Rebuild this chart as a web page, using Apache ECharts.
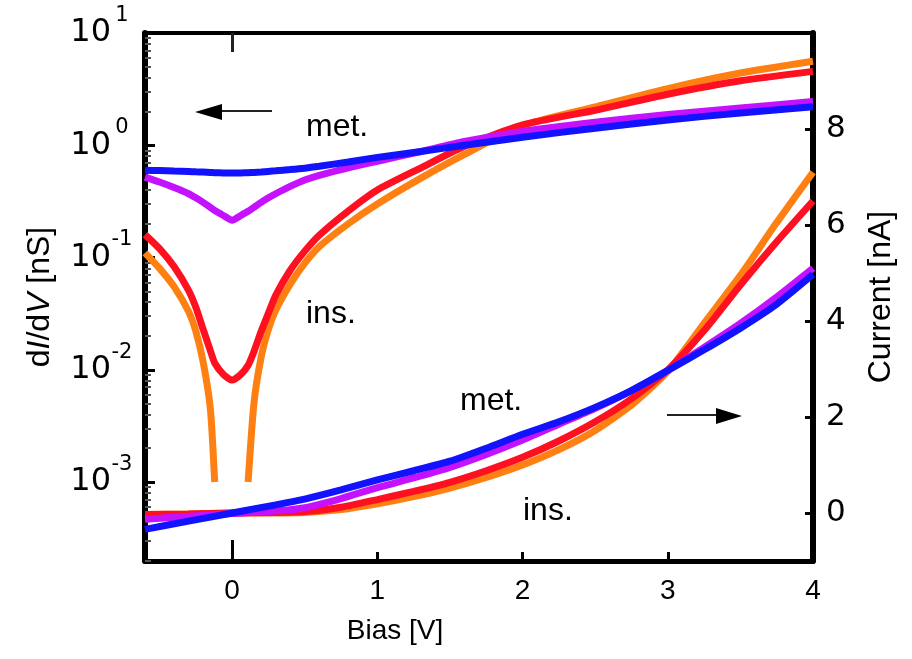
<!DOCTYPE html>
<html>
<head>
<meta charset="utf-8">
<title>dI/dV and current vs bias</title>
<script src="https://cdn.jsdelivr.net/npm/echarts@6/dist/echarts.min.js"></script>
<style>
  html, body { margin: 0; padding: 0; background: #fff; }
  #chart { width: 912px; height: 659px; }
</style>
</head>
<body>
<div id="chart"></div>
<script>
// conductance curves (left, log axis), bias in V
const biasG = [-0.6, -0.5, -0.4, -0.3, -0.25, -0.2, -0.15, -0.12, -0.06, 0, 0.06, 0.11, 0.15, 0.2, 0.25, 0.3, 0.4, 0.5, 0.6, 0.8, 1.0, 1.3, 1.6, 2.0, 2.5, 3.0, 3.5, 4.0];
const gOrange = [0.11, 0.08, 0.055, 0.033, 0.022, 0.0118, 0.0045, 0.001, null, null, null, 0.001, 0.005, 0.013, 0.023, 0.034, 0.058, 0.089, 0.125, 0.2, 0.30, 0.51, 0.83, 1.5, 2.2, 3.2, 4.4, 5.6];
const gRed = [0.16, 0.12, 0.083, 0.051, 0.036, 0.023, 0.0148, 0.0115, 0.0091, 0.0081, 0.0091, 0.011, 0.0145, 0.022, 0.032, 0.046, 0.077, 0.114, 0.158, 0.26, 0.40, 0.63, 0.98, 1.52, 2.05, 2.85, 3.75, 4.55];
const gPurple = [0.52, 0.47, 0.42, 0.37, 0.34, 0.31, 0.28, 0.262, 0.237, 0.215, 0.237, 0.258, 0.28, 0.31, 0.34, 0.37, 0.43, 0.49, 0.54, 0.63, 0.72, 0.88, 1.08, 1.33, 1.6, 1.88, 2.15, 2.45];
const gBlue = [0.60, 0.595, 0.59, 0.585, 0.58, 0.577, 0.573, 0.57, 0.567, 0.565, 0.567, 0.57, 0.573, 0.578, 0.585, 0.592, 0.607, 0.625, 0.65, 0.71, 0.78, 0.88, 1.0, 1.18, 1.42, 1.68, 1.94, 2.2];

// I-V curves (right axis, nA)
const biasI = [-0.6, -0.3, 0, 0.3, 0.5, 0.75, 1.0, 1.25, 1.5, 1.75, 2.0, 2.25, 2.5, 2.75, 3.0, 3.25, 3.5, 3.75, 4.0];
const iOrange = [-0.03, -0.02, 0, 0.0, 0.01, 0.07, 0.19, 0.34, 0.52, 0.74, 1.0, 1.32, 1.72, 2.25, 2.95, 3.95, 4.95, 6.05, 7.1];
const iRed = [-0.03, -0.02, 0, 0.01, 0.03, 0.12, 0.28, 0.45, 0.64, 0.88, 1.16, 1.5, 1.9, 2.38, 2.98, 3.8, 4.75, 5.65, 6.5];
const iPurple = [-0.13, -0.07, -0.01, 0.04, 0.11, 0.3, 0.53, 0.73, 0.95, 1.22, 1.52, 1.85, 2.18, 2.55, 2.97, 3.45, 3.95, 4.5, 5.1];
const iBlue = [-0.34, -0.17, 0, 0.17, 0.29, 0.48, 0.69, 0.88, 1.08, 1.35, 1.64, 1.9, 2.2, 2.55, 2.97, 3.4, 3.85, 4.35, 4.97];

const xTicks = [0, 1, 2, 3, 4];
const currentTicks = [0, 2, 4, 6, 8];
const decades = [1e-4, 1e-3, 1e-2, 1e-1, 1];
const minorSteps = [2, 3, 4, 5, 6, 7, 8, 9];

const ORANGE = '#ff8012', RED = '#ff1020', PURPLE = '#c412ff', BLUE = '#1212ff';
const SANS = '"Liberation Sans", Arial, sans-serif';
const Y_MIN = 1.98e-4, Y_MAX = 10;

// minor tick positions of the log axis (2..9 in each decade)
const minorTickVals = [];
decades.forEach(d => minorSteps.forEach(m => {
    const v = +(d * m).toPrecision(3);
    if (v >= Y_MIN && v <= Y_MAX) minorTickVals.push(v);
}));

function pairs(xs, ys) {
    return xs.map((x, i) => [x, ys[i]]);
}

function curve(name, xs, ys, color, yIndex) {
    return {
        name: name,
        type: 'line',
        xAxisIndex: 0,
        yAxisIndex: yIndex,
        data: pairs(xs, ys),
        smooth: 0.2,
        symbol: 'none',
        connectNulls: false,
        lineStyle: { color: color, width: 7 }
    };
}

function decadeLabel(v) {
    const e = Math.log10(v);
    const r = Math.round(e);
    if (Math.abs(e - r) > 1e-6) return '';
    return '{b|10}{s|' + r + '}';
}

const chart = echarts.init(document.getElementById('chart'));
chart.setOption({
    animation: false,
    backgroundColor: '#fff',
    grid: { left: 145, right: 99, top: 33, bottom: 98, containLabel: false, outerBoundsMode: 'none' },
    xAxis: [
        {
            type: 'value', position: 'bottom', min: -0.6, max: 4,
            axisLine: { onZero: false, lineStyle: { color: '#000', width: 5 } },
            axisTick: { inside: true, length: 9, customValues: xTicks, lineStyle: { color: '#000', width: 3 } },
            axisLabel: { customValues: xTicks, margin: 16, fontFamily: SANS, fontSize: 28, color: '#000' },
            splitLine: { show: false },
            name: 'Bias [V]', nameLocation: 'middle', nameGap: 56,
            nameTextStyle: { fontFamily: SANS, fontSize: 28, color: '#000', padding: [0, 168, 0, 0] }
        },
        {
            type: 'value', position: 'top', min: -0.6, max: 4,
            axisLine: { onZero: false, lineStyle: { color: '#000', width: 4 } },
            axisTick: { inside: true, length: 19, customValues: [0], lineStyle: { color: '#222', width: 3 } },
            axisLabel: { show: false },
            splitLine: { show: false }
        },
        {
            type: 'value', position: 'bottom', min: -0.6, max: 4,
            axisLine: { show: false, onZero: false },
            axisTick: { inside: true, length: 21, customValues: [0], lineStyle: { color: '#000', width: 3 } },
            axisLabel: { show: false },
            splitLine: { show: false }
        }
    ],
    yAxis: [
        {
            type: 'log', logBase: 10, position: 'left', min: Y_MIN, max: Y_MAX,
            axisLine: { show: true, onZero: false, lineStyle: { color: '#000', width: 6 } },
            axisTick: { show: true, inside: true, length: 10, lineStyle: { color: '#000', width: 3 } },
            minorTick: { show: false },
            splitLine: { show: false },
            axisLabel: {
                margin: 12,
                formatter: decadeLabel,
                rich: {
                    b: { fontFamily: 'DejaVu Sans', fontSize: 32, lineHeight: 56, verticalAlign: 'middle', color: '#000' },
                    s: { fontFamily: 'DejaVu Sans', fontSize: 21, lineHeight: 21, verticalAlign: 'top', width: 22, align: 'left', color: '#000' }
                }
            },
            name: 'd{i|I}/d{i|V} [nS]', nameLocation: 'middle', nameRotate: 90, nameGap: 89,
            nameTextStyle: {
                fontFamily: SANS, fontSize: 32, color: '#000',
                rich: { i: { fontFamily: SANS, fontSize: 32, fontStyle: 'italic', color: '#000' } }
            }
        },
        {
            type: 'value', position: 'right', min: -1, max: 10,
            axisLine: { show: true, onZero: false, lineStyle: { color: '#000', width: 6 } },
            axisTick: { show: true, inside: true, length: 8, customValues: currentTicks, lineStyle: { color: '#000', width: 3 } },
            axisLabel: { customValues: currentTicks, margin: 13, fontFamily: 'DejaVu Sans', fontSize: 31, color: '#000' },
            splitLine: { show: false },
            name: 'Current [nA]', nameLocation: 'middle', nameRotate: 90, nameGap: 52,
            nameTextStyle: { fontFamily: SANS, fontSize: 32, color: '#000' }
        },
        {
            // minor ticks of the log axis
            type: 'log', logBase: 10, position: 'left', min: Y_MIN, max: Y_MAX,
            axisLine: { show: false, onZero: false },
            axisTick: { show: true, inside: true, length: 6, customValues: minorTickVals, lineStyle: { color: '#555', width: 2 } },
            axisLabel: { show: false },
            splitLine: { show: false }
        }
    ],
    series: [
        curve('dI/dV ins. (orange)', biasG, gOrange, ORANGE, 0),
        curve('dI/dV ins. (red)', biasG, gRed, RED, 0),
        curve('dI/dV met. (purple)', biasG, gPurple, PURPLE, 0),
        curve('dI/dV met. (blue)', biasG, gBlue, BLUE, 0),
        curve('I ins. (orange)', biasI, iOrange, ORANGE, 1),
        curve('I ins. (red)', biasI, iRed, RED, 1),
        curve('I met. (purple)', biasI, iPurple, PURPLE, 1),
        curve('I met. (blue)', biasI, iBlue, BLUE, 1)
    ],
    graphic: [
        { type: 'text', x: 306, y: 127, style: { text: 'met.', font: '32px ' + SANS, fill: '#000', verticalAlign: 'middle' } },
        { type: 'text', x: 306, y: 314, style: { text: 'ins.', font: '32px ' + SANS, fill: '#000', verticalAlign: 'middle' } },
        { type: 'text', x: 460, y: 401, style: { text: 'met.', font: '32px ' + SANS, fill: '#000', verticalAlign: 'middle' } },
        { type: 'text', x: 523, y: 511, style: { text: 'ins.', font: '32px ' + SANS, fill: '#000', verticalAlign: 'middle' } },
        // arrow to the left axis
        { type: 'line', shape: { x1: 218, y1: 111, x2: 272, y2: 111 }, style: { stroke: '#222', lineWidth: 2 } },
        { type: 'polygon', shape: { points: [[195, 112], [222, 104], [222, 120]] }, style: { fill: '#000' } },
        // arrow to the right axis
        { type: 'line', shape: { x1: 667, y1: 415, x2: 720, y2: 415 }, style: { stroke: '#222', lineWidth: 2 } },
        { type: 'polygon', shape: { points: [[742, 416], [716, 408], [716, 424]] }, style: { fill: '#000' } }
    ]
});
</script>
</body>
</html>
